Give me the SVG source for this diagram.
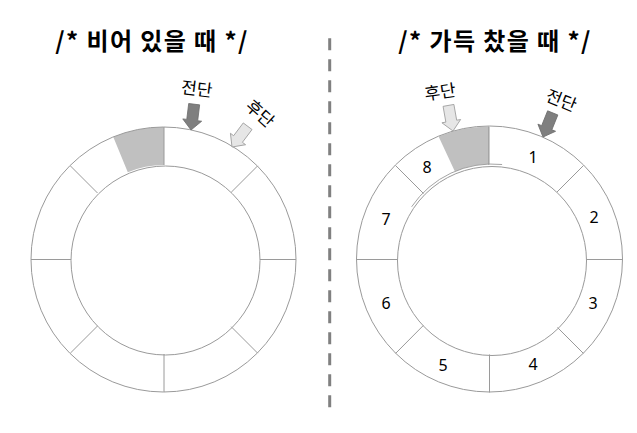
<svg xmlns="http://www.w3.org/2000/svg" width="637" height="433" viewBox="0 0 637 433">
  <style>
    .title { font-family: "Noto Sans CJK KR", "Liberation Sans", sans-serif; font-size: 24px; font-weight: bold; fill: #000; text-anchor: middle; letter-spacing: 1.4px; }
    .lbl { font-family: "Noto Sans CJK KR", "Liberation Sans", sans-serif; font-size: 17px; fill: #000; text-anchor: middle; }
    .num { font-family: "Noto Sans", "Liberation Sans", sans-serif; font-size: 16px; fill: #000; text-anchor: middle; }
    .ring { fill: none; stroke: #9a9a9a; stroke-width: 1; }
    .div { stroke: #9a9a9a; stroke-width: 1; fill: none; }
    .shade { fill: #c0c0c0; stroke: none; }
    .dark { fill: #7f7f7f; stroke: #6e6e6e; stroke-width: 0.8; }
    .light { fill: #e6e6e6; stroke: #9a9a9a; stroke-width: 0.8; }
  </style>
  <defs>
    <path id="arr" d="M-5.5,-26 L5.5,-26 L5.5,-10 L9.5,-10 L0,0 L-9.5,-10 L-5.5,-10 Z"/>
  </defs>

  <text class="title" x="152" y="50">/* 비어 있을 때 */</text>
  <text class="title" x="495" y="50">/* 가득 찼을 때 */</text>

  <line x1="329.7" y1="38.3" x2="329.7" y2="408" stroke="#808080" stroke-width="3" stroke-dasharray="12 9"/>

  <g id="empty-queue">
    <path class="shade" d="M164,127 A132.5,132.5 0 0 0 113.3,137.1 L127.8,172.2 A94.5,94.5 0 0 1 164,165 Z"/>
    <circle class="ring" cx="163.5" cy="259.5" r="132.5"/>
    <circle class="ring" cx="165.5" cy="260.5" r="94.5"/>
    <line class="div" x1="164" y1="127" x2="164" y2="165" stroke="#888" stroke-width="1.6"/>
    <line class="div" x1="164" y1="392" x2="164" y2="354"/>
    <line class="div" x1="31" y1="259.5" x2="71" y2="259.5"/>
    <line class="div" x1="296" y1="259.5" x2="260" y2="259.5"/>
    <line class="div" x1="257.7" y1="165.8" x2="231.2" y2="192.3"/>
    <line class="div" x1="70.3" y1="165.8" x2="97.5" y2="193"/>
    <line class="div" x1="70.3" y1="353.2" x2="97.5" y2="326"/>
    <line class="div" x1="257.7" y1="353.2" x2="231.2" y2="326.7"/>
  </g>

  <g id="empty-front">
    <use href="#arr" class="dark" transform="translate(191,130) rotate(7)"/>
    <text class="lbl" transform="translate(196,95) rotate(7)">전단</text>
  </g>
  <g id="empty-rear">
    <use href="#arr" class="light" transform="translate(232,147) rotate(37)"/>
    <text class="lbl" transform="translate(256,118) rotate(42)">후단</text>
  </g>

  <g id="full-queue">
    <path class="shade" d="M489.5,126.5 A133,133 0 0 0 438.6,136.6 L454.9,171.4 A97,97 0 0 1 489.5,164 Z"/>
    <circle class="ring" cx="489.5" cy="259" r="133"/>
    <circle class="ring" cx="492" cy="261" r="94.5"/>
    <path d="M411.6,206.8 A97,97 0 0 1 502.1,164.5" fill="none" stroke="#9a9a9a" stroke-width="0.9"/>
    <line class="div" x1="488.8" y1="126.5" x2="488.8" y2="165" stroke="#888" stroke-width="2"/>
    <line class="div" x1="489.5" y1="392.5" x2="489.5" y2="354.5"/>
    <line class="div" x1="356.5" y1="259.5" x2="397.5" y2="259.5"/>
    <line class="div" x1="622.5" y1="259.5" x2="586.5" y2="259.5"/>
    <line class="div" x1="583.5" y1="165.5" x2="557" y2="192"/>
    <line class="div" x1="395.5" y1="165.5" x2="423.5" y2="193.5" stroke="#777" stroke-width="1.6"/>
    <line class="div" x1="395.5" y1="353.5" x2="423.3" y2="325.5"/>
    <line class="div" x1="583.5" y1="353.5" x2="557.5" y2="327.5"/>
    <text class="num" x="533" y="163">1</text>
    <text class="num" x="594" y="223">2</text>
    <text class="num" x="593" y="309">3</text>
    <text class="num" x="533" y="370">4</text>
    <text class="num" x="443" y="371">5</text>
    <text class="num" x="386" y="309">6</text>
    <text class="num" x="386" y="225">7</text>
    <text class="num" x="427" y="173">8</text>
  </g>

  <g id="full-rear">
    <use href="#arr" class="light" transform="translate(453,131) rotate(-10)"/>
    <text class="lbl" transform="translate(441,98) rotate(-8)">후단</text>
  </g>
  <g id="full-front">
    <use href="#arr" class="dark" transform="translate(543,137) rotate(22)"/>
    <text class="lbl" transform="translate(559,106) rotate(22)">전단</text>
  </g>
</svg>
